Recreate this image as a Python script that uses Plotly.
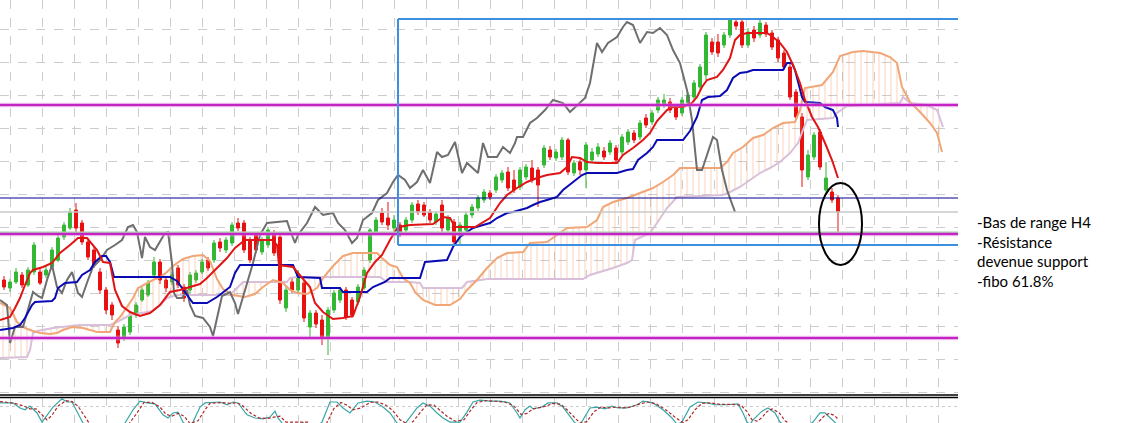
import plotly.graph_objects as go

# -- price candles (time units, price points) --
t_bar = list(range(4, 840, 6))
o = [120, 112, 118, 125, 115, 128, 128, 125, 133, 140,
     163, 172, 190, 177, 158, 150, 128, 110, 95, 70,
     62, 68, 85, 100, 105, 125, 138, 120, 118, 132,
     113, 110, 120, 128, 140, 140, 158, 150, 157, 177,
     177, 160, 165, 148, 155, 167, 163, 92, 118, 110,
     117, 73, 87, 80, 63, 90, 100, 110, 100, 98,
     112, 140, 167, 187, 182, 172, 175, 170, 180, 196,
     195, 188, 178, 195, 170, 178, 165, 170, 185, 192,
     200, 207, 210, 220, 228, 220, 213, 223, 232, 230,
     235, 250, 242, 243, 260, 227, 238, 230, 240, 246,
     249, 248, 252, 248, 258, 267, 263, 282, 278, 290,
     295, 298, 292, 287, 297, 303, 313, 325, 358, 358,
     355, 365, 378, 378, 355, 370, 365, 375, 367, 360,
     347, 333, 308, 283, 223, 243, 268, 210, 208, 202]
h = [124, 121, 132, 128, 133, 158, 132, 134, 153, 165,
     178, 192, 197, 180, 162, 154, 132, 113, 98, 74,
     76, 88, 98, 113, 120, 143, 141, 124, 128, 135,
     116, 128, 130, 141, 143, 160, 162, 163, 178, 182,
     180, 163, 168, 163, 173, 170, 166, 115, 122, 130,
     120, 90, 90, 85, 93, 110, 113, 113, 103, 116,
     133, 172, 183, 192, 198, 185, 178, 183, 198, 200,
     198, 191, 189, 200, 185, 181, 178, 188, 196, 205,
     211, 210, 226, 230, 233, 230, 233, 236, 240, 233,
     255, 254, 251, 263, 262, 240, 243, 258, 252, 257,
     253, 260, 255, 266, 271, 270, 280, 286, 290, 303,
     306, 302, 295, 303, 308, 320, 336, 368, 362, 366,
     368, 382, 382, 382, 372, 374, 382, 378, 370, 363,
     350, 336, 311, 287, 250, 268, 271, 238, 212, 205]
l = [110, 108, 116, 112, 113, 125, 115, 122, 130, 138,
     160, 170, 168, 155, 140, 132, 106, 86, 80, 52,
     59, 65, 82, 98, 103, 122, 116, 108, 115, 112,
     98, 105, 117, 126, 129, 137, 148, 147, 154, 169,
     147, 137, 147, 145, 152, 144, 96, 88, 107, 107,
     78, 63, 72, 55, 45, 87, 97, 80, 82, 95,
     110, 137, 165, 175, 170, 167, 163, 167, 177, 185,
     183, 177, 175, 168, 167, 155, 155, 167, 182, 189,
     197, 200, 207, 217, 209, 207, 210, 220, 217, 193,
     232, 240, 239, 240, 225, 224, 225, 212, 237, 243,
     240, 245, 237, 245, 255, 257, 260, 272, 275, 287,
     292, 287, 280, 284, 294, 300, 310, 320, 345, 343,
     352, 362, 370, 352, 352, 358, 362, 363, 350, 338,
     330, 300, 280, 213, 220, 240, 230, 207, 197, 167]
c = [113, 118, 128, 115, 130, 155, 117, 130, 150, 162,
     175, 188, 172, 158, 143, 135, 110, 90, 85, 57,
     73, 85, 95, 110, 117, 138, 120, 112, 125, 115,
     102, 125, 127, 138, 132, 157, 152, 160, 175, 172,
     150, 140, 150, 160, 170, 147, 100, 110, 110, 125,
     82, 87, 76, 63, 90, 107, 110, 83, 85, 113,
     130, 170, 180, 178, 175, 180, 167, 180, 195, 188,
     185, 180, 186, 172, 182, 158, 175, 185, 193, 202,
     208, 203, 223, 227, 212, 210, 230, 233, 220, 215,
     252, 243, 248, 260, 228, 237, 230, 255, 248, 253,
     243, 257, 240, 263, 268, 260, 277, 275, 287, 300,
     300, 290, 283, 300, 305, 317, 333, 365, 348, 347,
     365, 380, 374, 355, 368, 362, 377, 366, 353, 342,
     333, 303, 283, 230, 245, 265, 233, 222, 200, 188]

# -- ichimoku --
tenkan_t = [0, 10, 15, 20, 25, 30, 33, 43, 52, 60, 70, 78, 87, 97, 103, 110, 115, 122, 130, 140,
            150, 160, 170, 180, 190, 200, 207, 217, 227, 235, 245, 272, 277, 279, 293, 298, 310, 315, 323, 333,
            343, 353, 360, 367, 375, 382, 390, 398, 410, 433, 443, 450, 455, 475, 483, 490, 500, 507, 517, 527,
            537, 547, 560, 567, 572, 580, 587, 597, 617, 623, 633, 643, 650, 657, 667, 673, 683, 692, 697, 702,
            707, 717, 723, 730, 735, 740, 747, 767, 773, 780, 787, 793, 800, 805, 812, 818, 825, 832, 838]
tenkan_v = [80, 83, 92, 102, 115, 127, 130, 133, 137, 147, 155, 162, 162, 150, 138, 137, 110, 94, 88, 84,
            87, 95, 108, 110, 113, 116, 122, 132, 142, 152, 160, 160, 155, 135, 133, 127, 113, 97, 88, 81,
            82, 84, 103, 127, 138, 145, 160, 173, 175, 176, 183, 182, 173, 173, 178, 182, 197, 205, 212, 218,
            222, 225, 227, 233, 243, 242, 238, 237, 237, 245, 252, 260, 267, 279, 290, 293, 293, 297, 303, 313,
            320, 323, 330, 342, 360, 365, 367, 367, 363, 357, 348, 335, 317, 300, 283, 273, 257, 240, 222]

kijun_t = [0, 13, 20, 25, 32, 35, 52, 55, 58, 65, 77, 82, 90, 95, 102, 106, 110, 114, 170, 177,
           187, 193, 207, 217, 230, 235, 240, 293, 298, 320, 322, 340, 343, 367, 373, 385, 390, 420, 425, 447,
           453, 460, 467, 473, 483, 490, 497, 507, 513, 527, 533, 540, 547, 557, 563, 573, 582, 587, 617, 627,
           633, 638, 647, 653, 657, 683, 690, 697, 702, 708, 720, 727, 733, 740, 747, 753, 783, 787, 792, 795,
           798, 802, 805, 820, 825, 833, 837, 838]
kijun_v = [70, 72, 75, 82, 95, 98, 99, 102, 112, 117, 118, 125, 130, 138, 144, 144, 138, 123, 123, 119,
           105, 97, 97, 103, 113, 127, 135, 135, 123, 122, 112, 112, 108, 108, 113, 118, 122, 122, 138, 140,
           153, 163, 168, 172, 175, 177, 182, 187, 188, 192, 195, 198, 200, 203, 210, 218, 225, 227, 227, 230,
           231, 240, 247, 253, 260, 260, 269, 283, 300, 303, 304, 310, 322, 327, 328, 330, 330, 337, 337, 330,
           317, 303, 298, 297, 293, 290, 282, 273]

chikou_t = [0, 7, 10, 15, 23, 28, 33, 38, 42, 47, 52, 57, 62, 67, 72, 78, 82, 88, 93, 100,
            107, 115, 122, 128, 133, 137, 142, 145, 150, 155, 160, 165, 168, 172, 174, 177, 182, 187, 190, 195,
            203, 210, 213, 218, 222, 230, 235, 238, 245, 253, 260, 267, 277, 287, 290, 295, 298, 307, 315, 323,
            333, 338, 345, 352, 357, 363, 372, 378, 387, 393, 398, 405, 410, 417, 423, 430, 437, 442, 448, 455,
            462, 467, 478, 483, 488, 497, 503, 510, 515, 517, 523, 530, 537, 545, 553, 563, 570, 580, 585, 590,
            597, 602, 608, 617, 623, 627, 633, 640, 647, 653, 660, 667, 673, 680, 687, 692, 697, 702, 708, 713,
            717, 722, 727, 735]
chikou_v = [100, 95, 57, 73, 73, 90, 108, 104, 102, 120, 135, 113, 107, 120, 128, 107, 103, 120, 133, 140,
            150, 155, 160, 173, 175, 168, 142, 163, 153, 150, 158, 167, 168, 137, 107, 102, 102, 110, 95, 84,
            82, 73, 64, 87, 104, 108, 97, 86, 110, 137, 165, 177, 178, 179, 170, 157, 165, 177, 193, 185,
            187, 177, 170, 157, 162, 180, 187, 200, 207, 218, 225, 220, 212, 218, 230, 217, 248, 243, 245, 258,
            227, 237, 227, 257, 243, 243, 253, 247, 257, 263, 263, 277, 282, 290, 300, 297, 288, 298, 302, 317,
            357, 348, 357, 363, 373, 378, 375, 357, 368, 367, 372, 365, 350, 337, 310, 280, 230, 230, 247, 263,
            260, 230, 210, 188]

span_a_t = [0, 10, 17, 25, 33, 40, 50, 57, 63, 72, 83, 97, 110, 115, 120, 127, 133, 138, 147, 153,
            160, 167, 173, 183, 193, 203, 210, 217, 223, 233, 245, 255, 263, 273, 283, 290, 297, 307, 317, 323,
            333, 343, 353, 377, 382, 390, 397, 403, 410, 415, 423, 435, 450, 460, 467, 477, 487, 497, 507, 523,
            530, 547, 557, 567, 587, 597, 603, 613, 627, 640, 653, 663, 673, 680, 720, 727, 733, 743, 753, 763,
            773, 783, 795, 800, 805, 822, 833, 840, 853, 863, 880, 890, 897, 902, 910, 920, 930, 937, 942]
span_a_v = [97, 92, 78, 72, 69, 67, 66, 67, 70, 73, 72, 68, 68, 78, 83, 93, 102, 112, 117, 120,
            123, 128, 134, 141, 144, 145, 139, 121, 111, 105, 103, 106, 113, 120, 117, 110, 107, 106, 112, 122,
            134, 144, 147, 147, 142, 135, 133, 122, 117, 108, 100, 95, 95, 101, 110, 120, 132, 142, 147, 148,
            157, 158, 165, 172, 173, 180, 193, 198, 202, 207, 212, 218, 225, 232, 232, 238, 247, 253, 262, 265,
            272, 277, 278, 290, 312, 315, 328, 344, 348, 349, 347, 343, 337, 313, 298, 288, 277, 267, 248]

span_b_t = [0, 27, 30, 33, 37, 53, 80, 110, 117, 130, 153, 160, 167, 177, 230, 240, 243, 287, 290, 297,
            380, 387, 410, 420, 423, 462, 467, 487, 583, 590, 600, 613, 627, 632, 635, 650, 657, 667, 677, 723,
            730, 740, 750, 760, 770, 780, 790, 798, 803, 807, 833, 837, 847, 900, 903, 910, 927, 937, 943]
span_b_v = [42, 43, 50, 67, 69, 72, 75, 75, 78, 85, 89, 95, 102, 105, 105, 115, 118, 118, 122, 123,
            123, 118, 118, 117, 112, 112, 118, 121, 121, 125, 128, 132, 137, 140, 160, 167, 177, 192, 203, 205,
            208, 213, 220, 227, 232, 238, 247, 257, 270, 280, 282, 287, 294, 297, 303, 297, 295, 290, 273]

# -- stochastic (sub window) --
stoch_t = [0, 13, 20, 25, 30, 37, 42, 47, 53, 62, 67, 72, 78, 83, 95, 110, 125, 133, 140, 147,
           155, 163, 168, 173, 178, 183, 188, 193, 200, 205, 220, 227, 233, 238, 247, 255, 263, 270, 275, 278,
           282, 295, 303, 312, 322, 330, 337, 343, 350, 358, 367, 375, 383, 390, 397, 403, 408, 417, 423, 430,
           437, 443, 450, 460, 467, 473, 480, 490, 500, 510, 517, 520, 525, 530, 533, 542, 548, 557, 563, 570,
           575, 579, 583, 590, 597, 605, 612, 618, 627, 637, 643, 653, 663, 672, 677, 682, 690, 698, 707, 715,
           727, 738, 743, 747, 750, 753, 762, 768, 775, 780, 795, 813, 820, 825, 830, 838]
stoch_k = [87, 87, 76, 72, 80, 65, 45, 61, 78, 96, 89, 89, 65, 43, 15, 12, 43, 72, 91, 87,
           85, 61, 54, 65, 67, 45, 35, 45, 78, 87, 89, 83, 89, 87, 61, 54, 52, 56, 69, 54,
           43, 25, 44, 25, 45, 89, 89, 76, 65, 87, 91, 89, 78, 65, 43, 35, 50, 76, 87, 80,
           65, 54, 45, 45, 67, 89, 93, 91, 91, 87, 65, 54, 72, 80, 74, 78, 87, 87, 78, 56,
           43, 38, 50, 76, 78, 74, 80, 76, 76, 83, 91, 87, 72, 54, 40, 45, 78, 89, 87, 83,
           83, 85, 65, 45, 40, 50, 69, 76, 65, 45, 20, 45, 65, 65, 56, 38]
signal_t = [0, 15, 24, 30, 36, 42, 47, 52, 58, 66, 72, 78, 84, 90, 110, 128, 137, 144, 152, 160,
            166, 172, 178, 184, 190, 198, 205, 210, 222, 230, 237, 242, 251, 259, 267, 274, 280, 286, 300, 308,
            316, 326, 334, 341, 347, 353, 361, 370, 378, 386, 393, 400, 408, 413, 421, 427, 434, 441, 447, 455,
            464, 471, 477, 486, 496, 505, 514, 521, 527, 533, 538, 546, 553, 561, 567, 574, 580, 587, 594, 601,
            609, 616, 623, 631, 640, 648, 657, 667, 676, 683, 688, 695, 702, 711, 720, 731, 741, 747, 752, 757,
            762, 767, 772, 779, 785, 800, 817, 824, 829, 834, 838]
signal_d = [90, 86, 80, 74, 74, 60, 50, 60, 80, 92, 90, 80, 60, 40, 15, 38, 65, 88, 88, 78,
            62, 58, 64, 58, 42, 48, 72, 86, 88, 86, 87, 82, 64, 54, 53, 56, 58, 45, 45, 45,
            30, 40, 75, 88, 82, 72, 76, 88, 89, 82, 70, 50, 40, 46, 68, 83, 82, 70, 58, 47,
            50, 72, 88, 92, 91, 89, 80, 62, 64, 74, 76, 80, 86, 84, 72, 56, 43, 46, 68, 78,
            76, 78, 76, 78, 85, 89, 84, 70, 54, 44, 50, 72, 86, 87, 84, 84, 82, 68, 50, 47,
            55, 68, 74, 66, 48, 25, 42, 58, 64, 60, 52]

# -- drawn objects --
magenta_levels = [295, 166, 62]
green_level = 167.5
navy_level = 202
grey_level = 188
box_start = 398
box_top = 381
box_bottom = 155
circle_t = [819, 862]
circle_v = [135, 217]
notes = ["-Bas de range H4", "-Résistance", "devenue support", "-fibo 61.8%"]

T_END = 958

fig = go.Figure()

# cloud
fig.add_trace(go.Scatter(x=span_b_t, y=span_b_v, mode="lines",
                         line=dict(color="#d9bfd9", width=2), hoverinfo="skip"))
fig.add_trace(go.Scatter(x=span_a_t, y=span_a_v, mode="lines",
                         line=dict(color="#f0a676", width=2), fill="tonexty",
                         fillcolor="rgba(0,0,0,0)",
                         fillpattern=dict(shape="|", fgcolor="#e8955a", bgcolor="rgba(0,0,0,0)",
                                          size=6, solidity=0.12, fgopacity=0.6),
                         hoverinfo="skip"))

fig.add_trace(go.Candlestick(x=t_bar, open=o, high=h, low=l, close=c,
                             increasing=dict(line=dict(color="#33b833", width=1), fillcolor="#33b833"),
                             decreasing=dict(line=dict(color="#e81010", width=1), fillcolor="#e81010"),
                             whiskerwidth=0))

fig.add_trace(go.Scatter(x=chikou_t, y=chikou_v, mode="lines",
                         line=dict(color="#6e6e6e", width=2)))
fig.add_trace(go.Scatter(x=kijun_t, y=kijun_v, mode="lines",
                         line=dict(color="#0a0ab4", width=2)))
fig.add_trace(go.Scatter(x=tenkan_t, y=tenkan_v, mode="lines",
                         line=dict(color="#e01414", width=2)))

# stochastic
fig.add_trace(go.Scatter(x=stoch_t, y=stoch_k, mode="lines", xaxis="x2", yaxis="y2",
                         line=dict(color="#3aa6a6", width=1.2)))
fig.add_trace(go.Scatter(x=signal_t, y=signal_d, mode="lines", xaxis="x2", yaxis="y2",
                         line=dict(color="#b02828", width=1.2, dash="3px,2px")))

shapes = []
# levels
shapes.append(dict(type="line", xref="x domain", yref="y", x0=0, x1=1, y0=grey_level, y1=grey_level,
                   line=dict(color="#c8c8c8", width=1.5)))
shapes.append(dict(type="line", xref="x domain", yref="y", x0=0, x1=1, y0=navy_level, y1=navy_level,
                   line=dict(color="#000090", width=1)))
shapes.append(dict(type="line", xref="x domain", yref="y", x0=0, x1=1, y0=green_level, y1=green_level,
                   line=dict(color="#8ce88c", width=2)))
for lv in magenta_levels:
    shapes.append(dict(type="line", xref="x domain", yref="y", x0=0, x1=1, y0=lv, y1=lv,
                       line=dict(color="rgba(240,180,240,0.4)", width=5)))
    shapes.append(dict(type="line", xref="x domain", yref="y", x0=0, x1=1, y0=lv, y1=lv,
                       line=dict(color="#c424c4", width=2.6)))
# range box (open on the right)
box_line = dict(color="#3d8fe0", width=2)
shapes.append(dict(type="line", xref="x", yref="y", x0=box_start, x1=T_END, y0=box_top, y1=box_top, line=box_line))
shapes.append(dict(type="line", xref="x", yref="y", x0=box_start, x1=T_END, y0=box_bottom, y1=box_bottom, line=box_line))
shapes.append(dict(type="line", xref="x", yref="y", x0=box_start, x1=box_start, y0=box_bottom, y1=box_top, line=box_line))
# ellipse around the last candle
shapes.append(dict(type="circle", xref="x", yref="y", x0=circle_t[0], x1=circle_t[1],
                   y0=circle_v[0], y1=circle_v[1], line=dict(color="black", width=2)))
# window separator
for yy in [1 - 395 / 423, 1 - 397.5 / 423]:
    shapes.append(dict(type="line", xref="paper", yref="paper", x0=0, x1=T_END / 1139, y0=yy, y1=yy,
                       line=dict(color="black", width=1.3)))

annotations = []
for i, txt in enumerate(notes):
    annotations.append(dict(text=txt, xref="paper", yref="paper", x=975 / 1139,
                            y=1 - (222 + 19.5 * i) / 423, xanchor="left", yanchor="middle",
                            showarrow=False, font=dict(family="Lato", size=15, color="black")))

grid = dict(showgrid=True, gridcolor="#cccccc", griddash="dash", gridwidth=1,
            showticklabels=False, zeroline=False, showline=False, ticks="")

fig.update_layout(
    width=1139, height=423,
    margin=dict(l=0, r=0, t=0, b=0),
    paper_bgcolor="white", plot_bgcolor="white",
    showlegend=False,
    shapes=shapes, annotations=annotations,
    xaxis=dict(domain=[0, T_END / 1139], range=[0, T_END], tick0=10, dtick=32,
               rangeslider=dict(visible=False), **grid),
    yaxis=dict(domain=[29 / 423, 1], range=[6, 400], tick0=8, dtick=33, **grid),
    xaxis2=dict(domain=[0, T_END / 1139], range=[0, T_END], tick0=10, dtick=32,
                anchor="y2", matches="x", **grid),
    yaxis2=dict(domain=[0, 26 / 423], range=[43, 100], tickvals=[80], anchor="x2",
                showgrid=True, gridcolor="#cccccc", griddash="dot", gridwidth=1,
                showticklabels=False, zeroline=False, showline=False, ticks=""),
)

# page body has a default 8px margin; remove it so the chart sits at the window corner
fig.write_html("out.html", config={"displayModeBar": False},
               post_script="document.body.style.margin='0px';")
